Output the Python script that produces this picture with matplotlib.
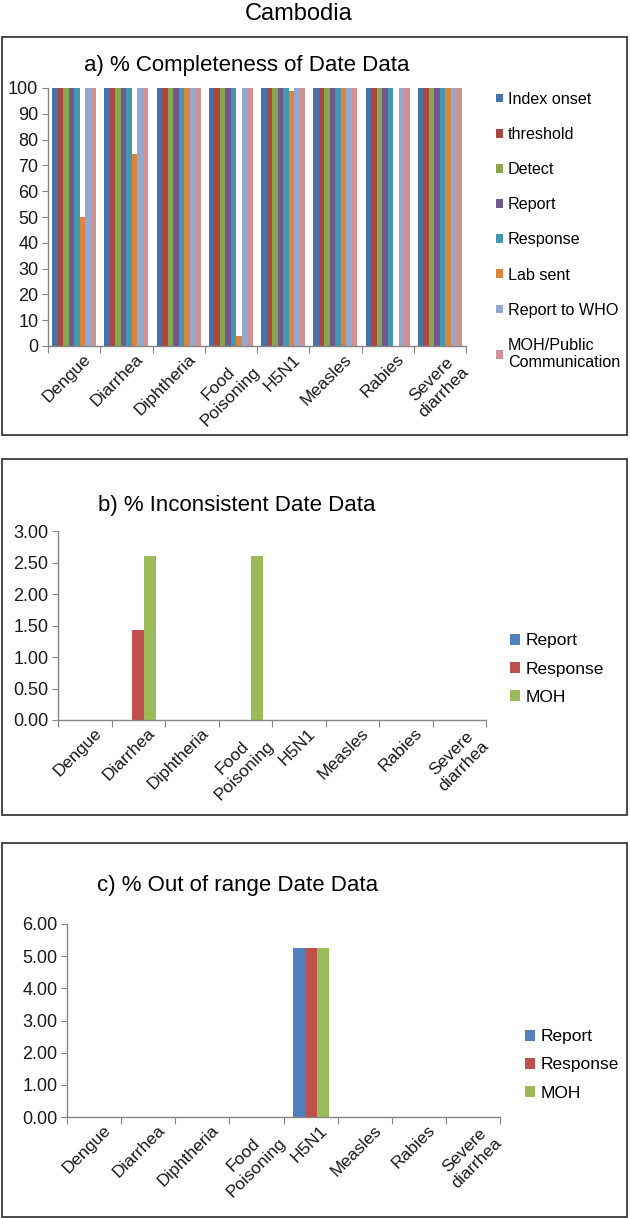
import matplotlib
matplotlib.use('Agg')
import matplotlib.pyplot as plt
import matplotlib.transforms as mtransforms
from matplotlib.patches import Rectangle

plt.rcParams['font.family'] = ['Liberation Sans', 'DejaVu Sans']

# ── Data ─────────────────────────────────────────────────────
diseases = ['Dengue', 'Diarrhea', 'Diphtheria', 'Food\nPoisoning', 'H5N1',
            'Measles', 'Rabies', 'Severe\ndiarrhea']

# a) % completeness of date data
stages_a = ['Index onset', 'threshold', 'Detect', 'Report', 'Response',
            'Lab sent', 'Report to WHO', 'MOH/Public\nCommunication']
index_onset = [100, 100, 100, 100, 100, 100, 100, 100]
threshold   = [100, 100, 100, 100, 100, 100, 100, 100]
detect      = [100, 100, 100, 100, 100, 100, 100, 100]
report      = [100, 100, 100, 100, 100, 100, 100, 100]
response    = [100, 100, 100, 100, 100, 100, 100, 100]
lab_sent    = [50, 74.4, 100, 3.8, 98.7, 100, 0, 100]
report_who  = [100, 100, 100, 100, 100, 100, 100, 100]
moh_public  = [100, 100, 100, 100, 100, 100, 100, 100]
colors_a = ['#4572A7', '#AA4643', '#89A54E', '#71588F',
            '#4198AF', '#DB843D', '#93A9CF', '#D19392']

# b) % inconsistent date data
stages_bc = ['Report', 'Response', 'MOH']
incons_report   = [0, 0, 0, 0, 0, 0, 0, 0]
incons_response = [0, 1.43, 0, 0, 0, 0, 0, 0]
incons_moh      = [0, 2.60, 0, 2.60, 0, 0, 0, 0]

# c) % out of range date data
range_report   = [0, 0, 0, 0, 5.26, 0, 0, 0]
range_response = [0, 0, 0, 0, 5.26, 0, 0, 0]
range_moh      = [0, 0, 0, 0, 5.26, 0, 0, 0]
colors_bc = ['#4F81BD', '#C0504D', '#9BBB59']

# ── Layout helpers (pixel coords, origin top-left) ──────────
W, H = 630, 1218
fig = plt.figure(figsize=(W / 100, H / 100), dpi=100)
AX_GRAY = '#868686'
TXT = '#1a1a1a'
TICK_FS = 13
CAT_FS = 12.5
LEG_FS = 12.5


def add_ax(x0, y0, x1, y1):
    return fig.add_axes([x0 / W, 1 - y1 / H, (x1 - x0) / W, (y1 - y0) / H])


def box(x0, y0, x1, y1):
    fig.add_artist(Rectangle((x0 / W, 1 - y1 / H), (x1 - x0) / W, (y1 - y0) / H,
                             transform=fig.transFigure, fill=False,
                             ec='#3a3a3a', lw=1.3))


def style_axis(ax, ymax, ystep, fmt):
    n = len(diseases)
    ax.set_xlim(-0.5, n - 0.5)
    ax.set_ylim(0, ymax)
    ax.set_yticks([ystep * k for k in range(int(round(ymax / ystep)) + 1)])
    ax.yaxis.set_major_formatter(plt.FormatStrFormatter(fmt))
    for s in ['top', 'right']:
        ax.spines[s].set_visible(False)
    for s in ['left', 'bottom']:
        ax.spines[s].set_color(AX_GRAY)
        ax.spines[s].set_linewidth(1.0)
    ax.tick_params(axis='y', length=4, color=AX_GRAY, labelsize=TICK_FS,
                   labelcolor=TXT, pad=3)
    # boundaries as major ticks, names on minor ticks
    ax.set_xticks([k - 0.5 for k in range(n + 1)])
    ax.set_xticklabels([])
    ax.set_xticks(range(n), minor=True)
    ax.tick_params(axis='x', which='major', length=5, color=AX_GRAY)
    ax.tick_params(axis='x', which='minor', length=0, pad=4)
    labels = ax.set_xticklabels(diseases, minor=True, rotation=45, ha='right',
                                rotation_mode='anchor', fontsize=CAT_FS,
                                color=TXT, multialignment='center')
    off = mtransforms.ScaledTranslation(9 / 100, 0, fig.dpi_scale_trans)
    for lab in labels:
        lab.set_transform(lab.get_transform() + off)


def grouped(ax, series, colors, names, group_w):
    n = len(series)
    w = group_w / n
    for j, (vals, c, name) in enumerate(zip(series, colors, names)):
        xs = [i + (j - (n - 1) / 2) * w for i in range(len(vals))]
        ax.bar(xs, vals, width=w, color=c, label=name, linewidth=0)


fig.text(299 / W, 1 - 14 / H, 'Cambodia', ha='center', va='center',
         fontsize=17, color='black')

# ── Panel a ─────────────────────────────────────────────────
box(2, 37, 627, 435)
ax_a = add_ax(48, 88, 466, 346)
grouped(ax_a, [index_onset, threshold, detect, report, response, lab_sent,
               report_who, moh_public], colors_a, stages_a, 0.84)
style_axis(ax_a, 100, 10, '%d')
fig.text(247 / W, 1 - 66 / H, 'a) % Completeness of Date Data', ha='center',
         va='center', fontsize=16, color='black')
ax_a.legend(loc='center left', bbox_to_anchor=(496 / W, 1 - 231 / H),
            bbox_transform=fig.transFigure, frameon=False, fontsize=11.6,
            handlelength=0.45, handleheight=0.45, handletextpad=0.3,
            labelspacing=1.25, borderpad=0, borderaxespad=0)

# ── Panel b ─────────────────────────────────────────────────
box(2, 459, 627, 815)
ax_b = add_ax(58, 531, 486, 720)
grouped(ax_b, [incons_report, incons_response, incons_moh], colors_bc,
        stages_bc, 0.665)
style_axis(ax_b, 3, 0.5, '%.2f')
fig.text(237 / W, 1 - 505 / H, 'b) % Inconsistent Date Data', ha='center',
         va='center', fontsize=16, color='black')
ax_b.legend(loc='center left', bbox_to_anchor=(510 / W, 1 - 669 / H),
            bbox_transform=fig.transFigure, frameon=False, fontsize=LEG_FS,
            handlelength=0.55, handleheight=0.55, handletextpad=0.35,
            labelspacing=0.75, borderpad=0, borderaxespad=0)

# ── Panel c ─────────────────────────────────────────────────
box(2, 843, 627, 1217)
ax_c = add_ax(67, 924, 500, 1117)
grouped(ax_c, [range_report, range_response, range_moh], colors_bc,
        stages_bc, 0.665)
style_axis(ax_c, 6, 1, '%.2f')
fig.text(238 / W, 1 - 885 / H, 'c) % Out of range Date Data', ha='center',
         va='center', fontsize=16, color='black')
ax_c.legend(loc='center left', bbox_to_anchor=(525 / W, 1 - 1065 / H),
            bbox_transform=fig.transFigure, frameon=False, fontsize=LEG_FS,
            handlelength=0.55, handleheight=0.55, handletextpad=0.35,
            labelspacing=0.75, borderpad=0, borderaxespad=0)

fig.savefig('out.png', dpi=100)
